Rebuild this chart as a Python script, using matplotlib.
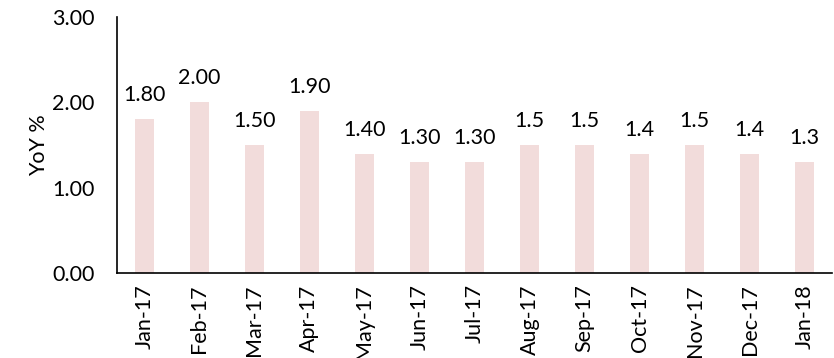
import numpy as np
import matplotlib.pyplot as plt

plt.rcParams['font.family'] = ['Lato', 'DejaVu Sans']

months = ['Jan-17', 'Feb-17', 'Mar-17', 'Apr-17', 'May-17', 'Jun-17', 'Jul-17',
          'Aug-17', 'Sep-17', 'Oct-17', 'Nov-17', 'Dec-17', 'Jan-18']
yoy = [1.80, 2.00, 1.50, 1.90, 1.40, 1.30, 1.30, 1.5, 1.5, 1.4, 1.5, 1.4, 1.3]
labels = ['1.80', '2.00', '1.50', '1.90', '1.40', '1.30', '1.30',
          '1.5', '1.5', '1.4', '1.5', '1.4', '1.3']

fig = plt.figure(figsize=(8.34, 3.58), dpi=100)
ax = fig.add_axes([0.140, 0.237, 0.858, 0.716])

x = np.arange(len(months))
bars = ax.bar(x, yoy, width=0.35, color='#F2DCDB')
ax.bar_label(bars, labels=labels, padding=10, fontsize=15.5)

ax.set_xlim(-0.5, len(months) - 0.5)
ax.set_ylim(0, 3)
ax.set_yticks([0, 1, 2, 3])
ax.set_yticklabels(['0.00', '1.00', '2.00', '3.00'], fontsize=15.5)
ax.set_xticks(x)
ax.set_xticklabels(months, rotation=90, fontsize=15.5)
ax.tick_params(axis='x', length=0, pad=8)
ax.tick_params(axis='y', length=0, pad=16)
ax.set_ylabel('YoY %', fontsize=15.5)
ax.yaxis.set_label_coords(-0.095, 0.5)

for s in ['top', 'right']:
    ax.spines[s].set_visible(False)
ax.spines['left'].set_linewidth(1.2)
ax.spines['bottom'].set_linewidth(1.2)

fig.savefig('out.png', dpi=100)
